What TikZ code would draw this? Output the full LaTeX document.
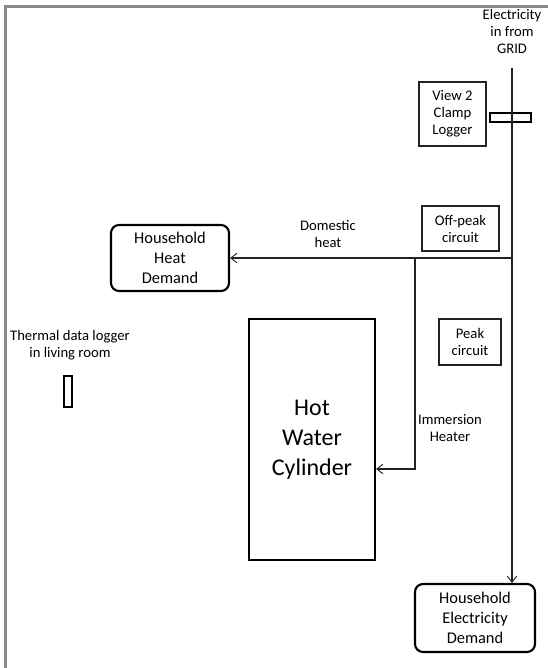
\documentclass[tikz,border=0pt]{standalone}
\usepackage{fontspec}
\setmainfont{Carlito}
\usepackage{tikz}
\usetikzlibrary{arrows.meta,positioning}
\definecolor{framegray}{HTML}{8A8A8A}
\definecolor{inkgray}{HTML}{222222}

\begin{document}
\begin{tikzpicture}[
  x=0.75pt,
  y=-0.75pt,
  wire/.style={line width=0.8pt, draw=inkgray},
  flow/.style={wire, -{Straight Barb[length=4.5pt, width=7pt, line width=0.7pt]}},
  labelbox/.style={draw=inkgray, line width=0.8pt, inner sep=0pt, align=center, font=\fontsize{11}{12.75}\selectfont},
  demand/.style={draw=black, line width=1.6pt, rounded corners=6pt, inner sep=0pt, align=center, font=\fontsize{12.3}{15}\selectfont},
  tank/.style={draw=black, line width=1.6pt, inner sep=0pt, align=center, font=\fontsize{18}{22.5}\selectfont},
  sensor/.style={draw=black, line width=1.5pt, inner sep=0pt},
  note/.style={align=center, inner sep=0pt, font=\fontsize{11}{12.75}\selectfont},
  frame/.style={draw=framegray, line width=1.8pt}
]
\useasboundingbox (0,0) rectangle (548,668);
\draw[frame] (5.5,668) -- (5.5,6.5) -- (548,6.5);

\node[note] (grid) at (512,31) {Electricity\\in from\\GRID};
\coordinate (supply) at (512,68);
\node[labelbox, minimum width=50.25pt, minimum height=48pt] (logger) at (452.5,114) {View 2\\Clamp\\Logger};
\node[sensor, minimum width=30.75pt, minimum height=6.75pt] (clamp) at (510.5,117.5) {};
\node[labelbox, minimum width=57.75pt, minimum height=33.75pt] (offpeak) at (460.5,228.5) {Off-peak\\circuit};
\node[labelbox, minimum width=46.5pt, minimum height=34.5pt] (peak) at (470,342) {Peak\\circuit};

\node[demand, minimum width=88.5pt, minimum height=49.5pt] (heat) at (170,258) {Household\\Heat\\Demand};
\node[tank, minimum width=94.5pt, minimum height=180.75pt] (cyl) at (312,439.5) {Hot\\Water\\Cylinder};
\node[demand, minimum width=90pt, minimum height=51pt] (elec) at (475,618) {Household\\Electricity\\Demand};

\node[note] (thermal) at (70,345.5) {Thermal data logger\\in living room};
\node[sensor, minimum width=6pt, minimum height=23.25pt] (tlogger) at (68,391) {};

\coordinate (junction) at (512,258);
\coordinate (branch) at (415,258);
\draw[flow] (supply) -- (supply |- elec.north);
\draw[flow] (junction) -- (heat.east);
\draw[flow] (branch) |- (cyl.east |- 0,469);
\node[note] (domestic) at (328,234) {Domestic\\heat};
\node[note] (immersion) at (450,428.5) {Immersion\\Heater};
\end{tikzpicture}
\end{document}
